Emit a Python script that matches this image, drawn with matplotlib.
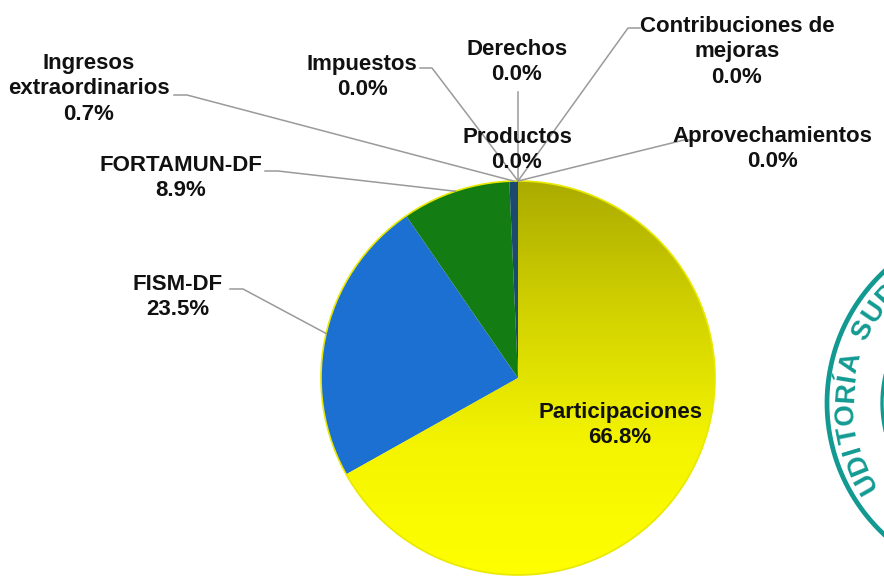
import numpy as np
import matplotlib
matplotlib.use("Agg")
import matplotlib.pyplot as plt
from matplotlib.colors import LinearSegmentedColormap

# Distribution of income sources (percent)
categories = ["Participaciones", "FISM-DF", "FORTAMUN-DF", "Ingresos\nextraordinarios",
              "Impuestos", "Derechos", "Productos", "Aprovechamientos",
              "Contribuciones de\nmejoras"]
shares = [66.8, 23.5, 8.9, 0.7, 0.0, 0.0, 0.0, 0.0, 0.0]
colors = ["#ffff00", "#1b70d2", "#137c13", "#1b4a6e",
          "#888888", "#888888", "#888888", "#888888", "#888888"]

W, H = 884, 577
CX, CY, R = 518, 378, 197   # pie centre / radius in pixels

# label placement (pixel centre of text block) for each category
label_pos = {
    "FISM-DF": (178, 297),
    "FORTAMUN-DF": (181, 178),
    "Ingresos\nextraordinarios": (89, 89),
    "Impuestos": (362, 77),
    "Derechos": (517, 62),
    "Productos": (517, 150),
    "Aprovechamientos": (772, 149),
    "Contribuciones de\nmejoras": (737, 52),
}
# where each leader line leaves its label (pixel)
line_start = {
    "FISM-DF": [(230, 289), (243, 289)],
    "FORTAMUN-DF": [(265, 171), (278, 171)],
    "Ingresos\nextraordinarios": [(174, 95), (187, 95)],
    "Impuestos": [(420, 68), (432, 68)],
    "Derechos": [(518, 92)],
    "Productos": [],
    "Aprovechamientos": [(696, 140), (684, 140)],
    "Contribuciones de\nmejoras": [(640, 28), (628, 28)],
}

plt.rcParams["font.family"] = ["Liberation Sans", "DejaVu Sans"]

fig = plt.figure(figsize=(W / 100, H / 100), dpi=100)
ax = fig.add_axes([0, 0, 1, 1])


def py(y):
    return H - y


wedges, _ = ax.pie(shares, colors=colors, startangle=90, counterclock=False,
                   center=(CX, py(CY)), radius=R, frame=True,
                   wedgeprops=dict(linewidth=0))
ax.set_xlim(0, W)
ax.set_ylim(0, H)
ax.set_aspect("equal")
ax.axis("off")

# olive-to-yellow shading on the big slice
grad = np.linspace(0, 1, 256).reshape(-1, 1)
cmap = LinearSegmentedColormap.from_list("yel", ["#ffff00", "#f4f400", "#d2d200", "#abab00"])
img = ax.imshow(grad, cmap=cmap, extent=(CX - R, CX + R, py(CY + R), py(CY - R)),
                origin="lower", aspect="auto", zorder=wedges[0].get_zorder() + 0.1)
img.set_clip_path(wedges[0])
ax.add_patch(plt.Circle((CX, py(CY)), R, fill=False, ec="#e8e800", lw=1.2, zorder=3))

txt_kw = dict(fontsize=16, fontweight="bold", ha="center", va="center",
              linespacing=1.3, color="#111111", zorder=6)

for name, share, w in zip(categories, shares, wedges):
    text = f"{name}\n{share:.1f}%"
    if name == "Participaciones":
        ax.text(620, py(425), text, **txt_kw)
        continue
    mid = np.deg2rad((w.theta1 + w.theta2) / 2)
    ex, ey = CX + R * np.cos(mid), py(CY) + R * np.sin(mid)
    if share == 0:
        ex, ey = CX, py(CY - R)
    pts = line_start[name]
    if pts:
        xs = [p[0] for p in pts] + [ex]
        ys = [py(p[1]) for p in pts] + [ey]
        ax.plot(xs, ys, color="#9a9a9a", lw=1.1, zorder=4)
    lx, ly = label_pos[name]
    ax.text(lx, py(ly), text, **txt_kw)

# seal stamp partly visible at the right edge
sx, sy = 1007, 403
teal = "#129a92"
t = np.linspace(0, 2 * np.pi, 400)
for rr, lw in [(180, 3.4), (125, 2.4)]:
    ax.plot(sx + rr * np.cos(t), py(sy) + rr * np.sin(t), color=teal, lw=lw, zorder=1)
seal = "UDITORÍA SUP"
widths = {"I": 0.45, "Í": 0.45, " ": 0.7}
ang = 213.0
for ch in seal:
    step = 7.4 * widths.get(ch, 1.0)
    ang -= step / 2
    a = np.deg2rad(ang)
    ax.text(sx + 161 * np.cos(a), py(sy) + 161 * np.sin(a), ch, color=teal,
            fontsize=20, fontweight="heavy", ha="center", va="center",
            rotation=ang - 90, zorder=1, clip_on=True)
    ang -= step / 2

fig.savefig("out.png", dpi=100)
